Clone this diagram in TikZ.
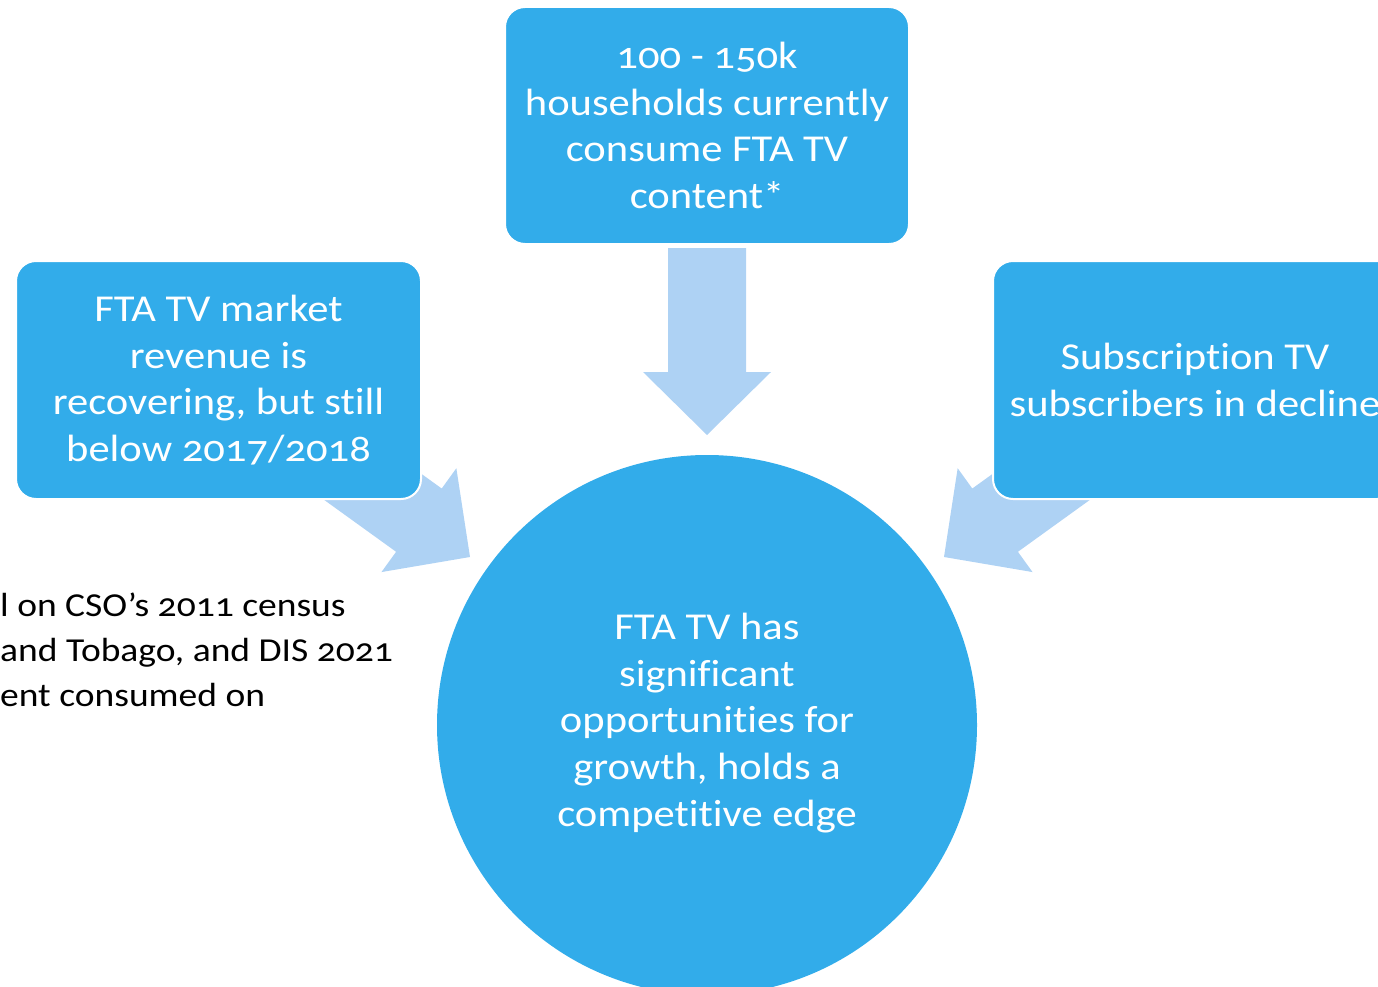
\documentclass[tikz,border=0pt]{standalone}
\usepackage{fontspec}
\setmainfont{Carlito}[Numbers=OldStyle, Ligatures=NoCommon, FakeStretch=1.12]
\definecolor{boxblue}{RGB}{50,172,234}
\definecolor{arrowblue}{RGB}{174,210,244}
\begin{document}
\begin{tikzpicture}[x=1pt,y=-1pt,
  infobox/.style={draw=white, line width=2pt, fill=boxblue, rounded corners=20pt,
    minimum width=405pt, minimum height=238pt, inner sep=0pt, text=white,
    align=center, font=\fontsize{38}{46.5}\selectfont},
  hubcircle/.style={circle, fill=boxblue, minimum size=540pt, inner sep=0pt},
  hubtext/.style={text=white, align=center, inner sep=0pt, font=\fontsize{38}{46.8}\selectfont},
  notetext/.style={text=black, anchor=base west, inner sep=0pt, font=\fontsize{33.5}{45}\selectfont},
  arrowfill/.style={fill=arrowblue}]
\useasboundingbox (0,0) rectangle (1378,987);
\clip (0,0) rectangle (1378,987);
% arrow tips
\coordinate (tipD) at (707,435);
\coordinate (tipL) at (470,557);
\coordinate (tipR) at (944,557);
\newcommand\blockarrow[2]{%
  \fill[arrowfill, shift={(#1)}, rotate=#2]
    (0,0) -- (-63,64) -- (-63,39) -- (-187,39) -- (-187,-39) -- (-63,-39) -- (-63,-64) -- cycle;}
\blockarrow{tipD}{-90}
\blockarrow{tipL}{-35.8}
\blockarrow{tipR}{-144.2}
% boxes
\node[infobox, minimum width=404pt, minimum height=237pt] (top) at (707,125.5)
  {100 - 150k\\households currently\\consume FTA TV\\content*};
\node[infobox] (left) at (218.5,380)
  {FTA TV market\\revenue is\\recovering, but still\\below 2017/2018};
\node[infobox, minimum width=404pt] (right) at (1195,380)
  {Subscription TV\\subscribers in decline};
% hub
\node[hubcircle] (hub) at (707,725) {};
\node[hubtext] (hubt) at (707,723)
  {FTA TV has\\significant\\opportunities for\\growth, holds a\\competitive edge};
% note
\node[notetext] (n1) at (0,616) {l on CSO’s 2011 census};
\node[notetext] (n2) at (0,661) {and Tobago, and DIS 2021};
\node[notetext] (n3) at (0,706) {ent consumed on};
\end{tikzpicture}
\end{document}
